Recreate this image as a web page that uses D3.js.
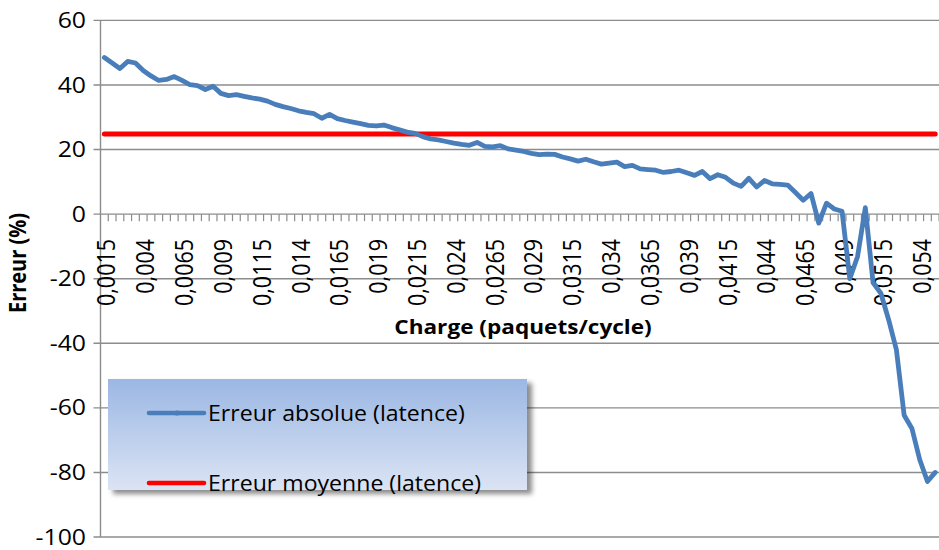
<!DOCTYPE html>
<html>
<head>
<meta charset="utf-8">
<script src="https://cdn.jsdelivr.net/npm/d3@7"></script>
<style>
  body { margin: 0; background: #fff; }
  svg { display: block; }
  text { font-family: "Open Sans", "Noto Sans", sans-serif; fill: #000; }
</style>
</head>
<body>
<svg id="chart" width="939" height="550"></svg>
<script>
// Load levels (paquets/cycle), as printed on the axis
const categories = [
  "0,0015","0,002","0,0025","0,003","0,0035","0,004","0,0045","0,005","0,0055","0,006",
  "0,0065","0,007","0,0075","0,008","0,0085","0,009","0,0095","0,01","0,0105","0,011",
  "0,0115","0,012","0,0125","0,013","0,0135","0,014","0,0145","0,015","0,0155","0,016",
  "0,0165","0,017","0,0175","0,018","0,0185","0,019","0,0195","0,02","0,0205","0,021",
  "0,0215","0,022","0,0225","0,023","0,0235","0,024","0,0245","0,025","0,0255","0,026",
  "0,0265","0,027","0,0275","0,028","0,0285","0,029","0,0295","0,03","0,0305","0,031",
  "0,0315","0,032","0,0325","0,033","0,0335","0,034","0,0345","0,035","0,0355","0,036",
  "0,0365","0,037","0,0375","0,038","0,0385","0,039","0,0395","0,04","0,0405","0,041",
  "0,0415","0,042","0,0425","0,043","0,0435","0,044","0,0445","0,045","0,0455","0,046",
  "0,0465","0,047","0,0475","0,048","0,0485","0,049","0,0495","0,05","0,0505","0,051",
  "0,0515","0,052","0,0525","0,053","0,0535","0,054","0,0545","0,055"
];

// Absolute latency error (%) per load level
const absError = [
  48.5, 46.8, 45.1, 47.3, 46.8, 44.5, 42.8, 41.4, 41.7, 42.6,
  41.4, 40.1, 39.8, 38.6, 39.6, 37.4, 36.7, 37.0, 36.5, 36.0,
  35.6, 35.0, 34.0, 33.3, 32.7, 32.0, 31.5, 31.1, 29.7, 30.9,
  29.6, 29.0, 28.5, 28.0, 27.5, 27.3, 27.6, 26.8, 26.1, 25.4,
  25.0, 24.0, 23.3, 23.0, 22.5, 22.0, 21.6, 21.3, 22.2, 21.0,
  20.8, 21.2, 20.2, 19.8, 19.4, 18.8, 18.4, 18.6, 18.5, 17.7,
  17.1, 16.4, 17.0, 16.2, 15.5, 15.8, 16.1, 14.7, 15.1, 14.0,
  13.8, 13.6, 12.9, 13.2, 13.6, 12.8, 12.0, 13.2, 11.0, 12.2,
  11.4, 9.6, 8.6, 11.1, 8.4, 10.4, 9.4, 9.2, 9.0, 6.7,
  4.3, 6.4, -2.8, 3.4, 1.6, 0.9, -20.0, -13.1, 2.0, -21.3,
  -24.5, -32.7, -42.0, -62.3, -66.4, -76.0, -82.8, -80.0
];

// Mean latency error (%)
const meanError = 24.8;

const yTicks = [60, 40, 20, 0, -20, -40, -60, -80, -100];
const labelEvery = 5;

const seriesNames = ["Erreur absolue (latence)", "Erreur moyenne (latence)"];
const seriesColors = ["#4a7ebb", "#ff0000"];

// Layout
const plot = { left: 100.5, right: 939.1, top: 20.4, bottom: 537 };
const SX = 1.18; // horizontal text stretch

const svg = d3.select("#chart");

const x = d3.scaleBand().domain(categories).range([plot.left, plot.right]).padding(0);
const xc = c => x(c) + x.bandwidth() / 2;
const y = d3.scaleLinear().domain([-100, 60]).range([plot.bottom, plot.top]);

const gridColor = "#8c8c8c";

// Horizontal gridlines (extending left as major tick marks)
svg.append("g").selectAll("line").data(yTicks).join("line")
  .attr("x1", plot.left - 7).attr("x2", plot.right)
  .attr("y1", d => y(d)).attr("y2", d => y(d))
  .attr("stroke", gridColor).attr("stroke-width", 1.4);

// Value axis line
svg.append("line")
  .attr("x1", plot.left).attr("x2", plot.left)
  .attr("y1", y(60)).attr("y2", y(-100))
  .attr("stroke", gridColor).attr("stroke-width", 1.4);

// Category tick marks hanging below the zero line
svg.append("g").selectAll("line").data(categories).join("line")
  .attr("x1", d => x(d) + x.bandwidth()).attr("x2", d => x(d) + x.bandwidth())
  .attr("y1", y(0)).attr("y2", y(0) + 7)
  .attr("stroke", gridColor).attr("stroke-width", 1.2);

// Value axis labels
svg.append("g").selectAll("text").data(yTicks).join("text")
  .attr("transform", d => `translate(86,${y(d)}) scale(${SX},1)`)
  .attr("text-anchor", "end").attr("dy", "0.36em")
  .style("font-size", "21px")
  .text(d => d);

// Category labels (every fifth load), rotated
svg.append("g").selectAll("text")
  .data(categories.filter((c, i) => i % labelEvery === 0)).join("text")
  .attr("transform", d => `translate(${xc(d) + 11},239) scale(${SX},1) rotate(-90)`)
  .attr("text-anchor", "end")
  .style("font-size", "21.5px")
  .text(d => d);

// Axis titles
svg.append("text")
  .attr("transform", `translate(26,263) scale(${SX},1) rotate(-90)`)
  .attr("text-anchor", "middle")
  .style("font-size", "20px").style("font-weight", "bold")
  .text("Erreur (%)");

svg.append("text")
  .attr("transform", `translate(523,334) scale(1.13,1)`)
  .attr("text-anchor", "middle")
  .style("font-size", "20px").style("font-weight", "bold")
  .text("Charge (paquets/cycle)");

// Mean error line
svg.append("path")
  .datum([categories[0], categories[categories.length - 1]])
  .attr("d", d3.line().x(c => xc(c)).y(() => y(meanError)))
  .attr("fill", "none").attr("stroke", seriesColors[1])
  .attr("stroke-width", 5).attr("stroke-linecap", "round");

// Absolute error line
svg.append("path")
  .datum(absError)
  .attr("d", d3.line().x((d, i) => xc(categories[i])).y(d => y(d)))
  .attr("fill", "none").attr("stroke", seriesColors[0])
  .attr("stroke-width", 4.8).attr("stroke-linejoin", "round").attr("stroke-linecap", "round");

// Legend
const defs = svg.append("defs");
const grad = defs.append("linearGradient").attr("id", "legendFill")
  .attr("x1", 0).attr("y1", 0).attr("x2", 0).attr("y2", 1);
grad.append("stop").attr("offset", "0%").attr("stop-color", "#9bb7e3");
grad.append("stop").attr("offset", "100%").attr("stop-color", "#dbe4f4");

const shadow = defs.append("filter").attr("id", "legendShadow")
  .attr("x", "-5%").attr("y", "-5%").attr("width", "115%").attr("height", "125%");
shadow.append("feDropShadow").attr("dx", 5).attr("dy", 4).attr("stdDeviation", 2.5)
  .attr("flood-color", "#000").attr("flood-opacity", 0.45);

const legend = svg.append("g");
legend.append("rect")
  .attr("x", 108).attr("y", 379).attr("width", 419).attr("height", 111)
  .attr("fill", "url(#legendFill)").attr("filter", "url(#legendShadow)");

const legendRows = [413, 483];
seriesNames.forEach((name, i) => {
  legend.append("line")
    .attr("x1", 149).attr("x2", 204)
    .attr("y1", legendRows[i]).attr("y2", legendRows[i])
    .attr("stroke", seriesColors[i]).attr("stroke-width", 4.6)
    .attr("stroke-linecap", "round");
  if (i === 0) {
    legend.append("circle").attr("cx", 177).attr("cy", legendRows[i]).attr("r", 2.6)
      .attr("fill", seriesColors[i]);
  }
  legend.append("text")
    .attr("transform", `translate(208,${legendRows[i]}) scale(1.05,1)`)
    .attr("dy", "0.36em")
    .style("font-size", "22px")
    .text(name);
});
</script>
</body>
</html>
